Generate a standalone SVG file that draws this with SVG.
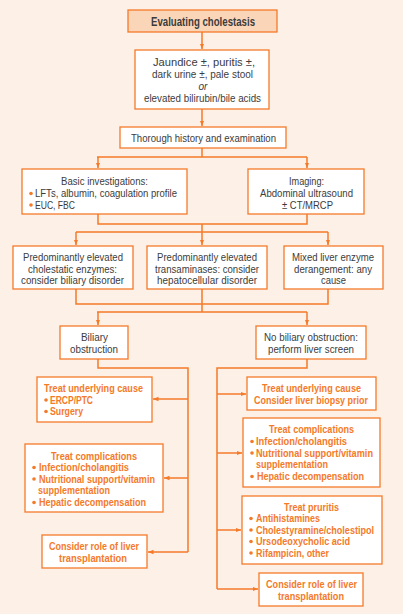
<svg xmlns="http://www.w3.org/2000/svg" width="403" height="614" viewBox="0 0 403 614">
<style>
.bg{fill:#FDF0E6}
.box{fill:#fff;stroke:#F47A2A;stroke-width:1.3}
.title{fill:#FBD5B8;stroke:#F47A2A;stroke-width:1.3}
.ln{fill:none;stroke:#F47A2A;stroke-width:1.5}
text{font-family:"Liberation Sans",Arial,sans-serif;font-size:11.5px;fill:#3c3c3c;text-anchor:middle}
.o{fill:#F47A2A;font-weight:bold;font-size:11px}
.l{text-anchor:start}
.b{font-weight:bold;font-size:12px}
.dot{fill:#F47A2A}
</style>
<defs>
<marker id="ar" viewBox="0 0 10 10" refX="10" refY="5" markerWidth="5.5" markerHeight="5.5" orient="auto" markerUnits="userSpaceOnUse">
<path d="M0,1 L10,5 L0,9 Z" fill="#F47A2A"/>
</marker>
</defs>
<rect class="bg" x="0" y="0" width="403" height="614"/>
<g id="connectors">
<path class="ln" d="M202,32 V49" marker-end="url(#ar)"/>
<path class="ln" d="M202,109 V126" marker-end="url(#ar)"/>
<path class="ln" d="M202,148 V157 M97,157 H307"/>
<path class="ln" d="M98,157 V168" marker-end="url(#ar)"/>
<path class="ln" d="M307,157 V168" marker-end="url(#ar)"/>
<path class="ln" d="M98,214 V224 H307 V214 M202,224 V232 M76,232 H328"/>
<path class="ln" d="M76,232 V245" marker-end="url(#ar)"/>
<path class="ln" d="M202,232 V245" marker-end="url(#ar)"/>
<path class="ln" d="M328,232 V245" marker-end="url(#ar)"/>
<path class="ln" d="M76,289 V304 H328 V289 M202,289 V312 M97,312 H307"/>
<path class="ln" d="M98,312 V325" marker-end="url(#ar)"/>
<path class="ln" d="M307,312 V325" marker-end="url(#ar)"/>
<path class="ln" d="M98,359 V368 H188 V552"/>
<path class="ln" d="M188,399 H153" marker-end="url(#ar)"/>
<path class="ln" d="M188,478 H164" marker-end="url(#ar)"/>
<path class="ln" d="M188,552 H148" marker-end="url(#ar)"/>
<path class="ln" d="M307,359 V368 H217 V589"/>
<path class="ln" d="M217,394 H246" marker-end="url(#ar)"/>
<path class="ln" d="M217,453 H242" marker-end="url(#ar)"/>
<path class="ln" d="M217,530 H241" marker-end="url(#ar)"/>
<path class="ln" d="M217,589 H258" marker-end="url(#ar)"/>
</g>
<g id="n-title">
<rect class="title" x="128" y="10" width="149" height="22"/>
<text x="203" y="25.5" class="b" textLength="104" lengthAdjust="spacingAndGlyphs">Evaluating cholestasis</text>
</g>
<g id="n-symptoms">
<rect class="box" x="135" y="50" width="134" height="59"/>
<text x="204" y="66" textLength="102" lengthAdjust="spacingAndGlyphs">Jaundice ±, puritis ±,</text>
<text x="202.5" y="78" textLength="101" lengthAdjust="spacingAndGlyphs">dark urine ±, pale stool</text>
<text x="203" y="90" font-style="italic" textLength="9" lengthAdjust="spacingAndGlyphs">or</text>
<text x="202.5" y="102" textLength="117" lengthAdjust="spacingAndGlyphs">elevated bilirubin/bile acids</text>
</g>
<g id="n-history">
<rect class="box" x="120" y="127" width="166" height="21"/>
<text x="203.5" y="142" textLength="145" lengthAdjust="spacingAndGlyphs">Thorough history and examination</text>
</g>
<g id="n-basic">
<rect class="box" x="22" y="169" width="165" height="45"/>
<text x="104.5" y="185" textLength="87" lengthAdjust="spacingAndGlyphs">Basic investigations:</text>
<circle class="dot" cx="31" cy="193.5" r="1.8"/>
<text x="35" y="197" class="l" textLength="142" lengthAdjust="spacingAndGlyphs">LFTs, albumin, coagulation profile</text>
<circle class="dot" cx="31" cy="205" r="1.8"/>
<text x="35" y="208.5" class="l" textLength="40" lengthAdjust="spacingAndGlyphs">EUC, FBC</text>
</g>
<g id="n-imaging">
<rect class="box" x="248" y="169" width="116" height="45"/>
<text x="306.5" y="185" textLength="35" lengthAdjust="spacingAndGlyphs">Imaging:</text>
<text x="306.5" y="197" textLength="93" lengthAdjust="spacingAndGlyphs">Abdominal ultrasound</text>
<text x="307.5" y="208.5" textLength="51" lengthAdjust="spacingAndGlyphs">± CT/MRCP</text>
</g>
<g id="n-cholestatic">
<rect class="box" x="13" y="246" width="120" height="43"/>
<text x="73" y="261" textLength="100" lengthAdjust="spacingAndGlyphs">Predominantly elevated</text>
<text x="72.5" y="272.5" textLength="89" lengthAdjust="spacingAndGlyphs">cholestatic enzymes:</text>
<text x="72.5" y="284" textLength="103" lengthAdjust="spacingAndGlyphs">consider biliary disorder</text>
</g>
<g id="n-transaminases">
<rect class="box" x="147" y="246" width="120" height="43"/>
<text x="207" y="261" textLength="100" lengthAdjust="spacingAndGlyphs">Predominantly elevated</text>
<text x="207" y="272.5" textLength="104" lengthAdjust="spacingAndGlyphs">transaminases: consider</text>
<text x="207" y="284" textLength="100" lengthAdjust="spacingAndGlyphs">hepatocellular disorder</text>
</g>
<g id="n-mixed">
<rect class="box" x="284" y="246" width="99" height="43"/>
<text x="333" y="261" textLength="82" lengthAdjust="spacingAndGlyphs">Mixed liver enzyme</text>
<text x="333" y="272.5" textLength="78" lengthAdjust="spacingAndGlyphs">derangement: any</text>
<text x="333.5" y="284" textLength="25" lengthAdjust="spacingAndGlyphs">cause</text>
</g>
<g id="n-biliary">
<rect class="box" x="60" y="326" width="68" height="33"/>
<text x="94.5" y="341" textLength="27" lengthAdjust="spacingAndGlyphs">Biliary</text>
<text x="94" y="353" textLength="48" lengthAdjust="spacingAndGlyphs">obstruction</text>
</g>
<g id="n-nobiliary">
<rect class="box" x="256" y="326" width="110" height="33"/>
<text x="311" y="341" textLength="94" lengthAdjust="spacingAndGlyphs">No biliary obstruction:</text>
<text x="311" y="353" textLength="86" lengthAdjust="spacingAndGlyphs">perform liver screen</text>
</g>
<g id="n-l-underlying">
<rect class="box" x="37" y="377" width="115" height="45"/>
<text x="93.5" y="392" class="o" textLength="99" lengthAdjust="spacingAndGlyphs">Treat underlying cause</text>
<circle class="dot" cx="46" cy="400" r="1.8"/>
<text x="50" y="403.5" class="o l" textLength="43" lengthAdjust="spacingAndGlyphs">ERCP/PTC</text>
<circle class="dot" cx="46" cy="411.5" r="1.8"/>
<text x="50" y="415" class="o l" textLength="33" lengthAdjust="spacingAndGlyphs">Surgery</text>
</g>
<g id="n-l-complications">
<rect class="box" x="25" y="444" width="138" height="68"/>
<text x="94" y="459.5" class="o" textLength="86" lengthAdjust="spacingAndGlyphs">Treat complications</text>
<circle class="dot" cx="34" cy="467.5" r="1.8"/>
<text x="39" y="471" class="o l" textLength="90" lengthAdjust="spacingAndGlyphs">Infection/cholangitis</text>
<circle class="dot" cx="34" cy="479" r="1.8"/>
<text x="39" y="482.5" class="o l" textLength="116" lengthAdjust="spacingAndGlyphs">Nutritional support/vitamin</text>
<text x="38" y="494" class="o l" textLength="72" lengthAdjust="spacingAndGlyphs">supplementation</text>
<circle class="dot" cx="34" cy="502.5" r="1.8"/>
<text x="39" y="506" class="o l" textLength="107" lengthAdjust="spacingAndGlyphs">Hepatic decompensation</text>
</g>
<g id="n-l-transplant">
<rect class="box" x="42" y="535" width="105" height="33"/>
<text x="94" y="550" class="o" textLength="90" lengthAdjust="spacingAndGlyphs">Consider role of liver</text>
<text x="93" y="562" class="o" textLength="68" lengthAdjust="spacingAndGlyphs">transplantation</text>
</g>
<g id="n-r-underlying">
<rect class="box" x="247" y="377" width="129" height="33"/>
<text x="311.5" y="392" class="o" textLength="99" lengthAdjust="spacingAndGlyphs">Treat underlying cause</text>
<text x="311" y="404" class="o" textLength="114" lengthAdjust="spacingAndGlyphs">Consider liver biopsy prior</text>
</g>
<g id="n-r-complications">
<rect class="box" x="243" y="418" width="137" height="69"/>
<text x="311.5" y="433" class="o" textLength="85" lengthAdjust="spacingAndGlyphs">Treat complications</text>
<circle class="dot" cx="252" cy="441.5" r="1.8"/>
<text x="256" y="445" class="o l" textLength="91" lengthAdjust="spacingAndGlyphs">Infection/cholangitis</text>
<circle class="dot" cx="252" cy="453" r="1.8"/>
<text x="256" y="456.5" class="o l" textLength="117" lengthAdjust="spacingAndGlyphs">Nutritional support/vitamin</text>
<text x="256" y="468" class="o l" textLength="72" lengthAdjust="spacingAndGlyphs">supplementation</text>
<circle class="dot" cx="252" cy="476.5" r="1.8"/>
<text x="257" y="480" class="o l" textLength="107" lengthAdjust="spacingAndGlyphs">Hepatic decompensation</text>
</g>
<g id="n-pruritis">
<rect class="box" x="242" y="496" width="140" height="68"/>
<text x="311.5" y="511" class="o" textLength="55" lengthAdjust="spacingAndGlyphs">Treat pruritis</text>
<circle class="dot" cx="251" cy="518.5" r="1.8"/>
<text x="256" y="522" class="o l" textLength="64" lengthAdjust="spacingAndGlyphs">Antihistamines</text>
<circle class="dot" cx="251" cy="530" r="1.8"/>
<text x="256" y="533.5" class="o l" textLength="118" lengthAdjust="spacingAndGlyphs">Cholestyramine/cholestipol</text>
<circle class="dot" cx="251" cy="541.5" r="1.8"/>
<text x="256" y="545" class="o l" textLength="94" lengthAdjust="spacingAndGlyphs">Ursodeoxycholic acid</text>
<circle class="dot" cx="251" cy="553" r="1.8"/>
<text x="256" y="556.5" class="o l" textLength="73" lengthAdjust="spacingAndGlyphs">Rifampicin, other</text>
</g>
<g id="n-r-transplant">
<rect class="box" x="259" y="573" width="104" height="33"/>
<text x="311.5" y="588" class="o" textLength="91" lengthAdjust="spacingAndGlyphs">Consider role of liver</text>
<text x="311" y="600" class="o" textLength="66" lengthAdjust="spacingAndGlyphs">transplantation</text>
</g>
</svg>
